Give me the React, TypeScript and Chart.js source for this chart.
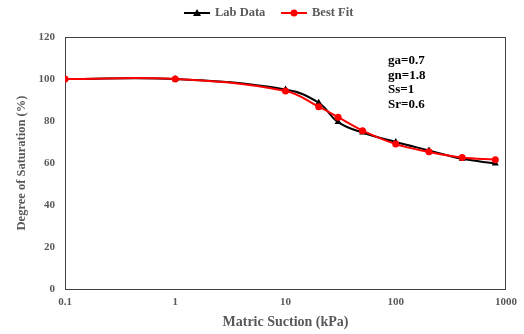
import React, { useEffect, useRef } from "react";
import { Chart, registerables } from "chart.js";

Chart.register(...registerables);

const suction = [0.1, 1, 10, 20, 30, 50, 100, 200, 400, 800];
const labData = [100, 100, 95, 88.7, 79.5, 74.5, 70, 66, 62, 59.8];
const bestFit = [100, 100, 94.3, 86.8, 81.8, 75.4, 69, 65.3, 62.6, 61.6];
const xTicks = [0.1, 1, 10, 100, 1000];
const annotations = ["ga=0.7", "gn=1.8", "Ss=1", "Sr=0.6"];
const seriesNames = ["Lab Data", "Best Fit"];

const FONT = "'Liberation Serif', 'Times New Roman', serif";
const GRAY = "#595959";

export default function App() {
  const ref = useRef<HTMLCanvasElement>(null);
  useEffect(() => {
    document.body.style.margin = "0";
    const ctx = ref.current!.getContext("2d")!;
    const framePlugin = {
      id: "frame",
      beforeDatasetsDraw(chart: any) {
        const { left, right, top, bottom } = chart.chartArea;
        const c = chart.ctx;
        c.save();
        c.strokeStyle = "#404040";
        c.lineWidth = 1;
        c.strokeRect(left + 0.5, top + 0.5, right - left - 1, bottom - top);
        c.restore();
      },
      afterDraw(chart: any) {
        const c = chart.ctx;
        c.save();
        c.fillStyle = "#000";
        c.font = `bold 13px ${FONT}`;
        c.textAlign = "left";
        c.textBaseline = "middle";
        annotations.forEach((t, i) => c.fillText(t, 388, 61 + i * 14.5));
        const cy = 13;
        const items = [
          { x: 184, color: "#000", style: "tri", text: seriesNames[0] },
          { x: 281, color: "#ff0000", style: "circ", text: seriesNames[1] },
        ];
        items.forEach((it) => {
          c.strokeStyle = it.color;
          c.lineWidth = 2;
          c.beginPath();
          c.moveTo(it.x, cy);
          c.lineTo(it.x + 26, cy);
          c.stroke();
          const mx = it.x + 13;
          c.fillStyle = it.color;
          c.beginPath();
          if (it.style === "tri") {
            c.moveTo(mx, cy - 4);
            c.lineTo(mx + 4, cy + 3);
            c.lineTo(mx - 4, cy + 3);
            c.closePath();
          } else {
            c.arc(mx, cy, 3.5, 0, Math.PI * 2);
          }
          c.fill();
          c.fillStyle = GRAY;
          c.font = `bold 12.5px ${FONT}`;
          c.textBaseline = "middle";
          c.fillText(it.text, it.x + 31, cy);
        });
        c.restore();
      },
    };
    const chart = new Chart(ctx, {
      type: "line",
      data: {
        datasets: [
          {
            label: seriesNames[1],
            data: suction.map((x, i) => ({ x, y: bestFit[i] })),
            borderColor: "#ff0000",
            backgroundColor: "#ff0000",
            borderWidth: 2,
            pointStyle: "circle",
            pointRadius: 3.5,
            pointBorderWidth: 0,
            tension: 0.4,
            order: 0,
          },
          {
            label: seriesNames[0],
            data: suction.map((x, i) => ({ x, y: labData[i] })),
            borderColor: "#000",
            backgroundColor: "#000",
            borderWidth: 2,
            pointStyle: "triangle",
            pointRadius: 4,
            pointBorderWidth: 0,
            tension: 0.4,
            order: 1,
          },
        ],
      },
      options: {
        animation: false,
        responsive: false,
        layout: { padding: { top: 37, right: 17, left: 0, bottom: 0 } },
        plugins: { legend: { display: false }, tooltip: { enabled: false } },
        scales: {
          x: {
            type: "logarithmic",
            min: 0.1,
            max: 1000,
            afterBuildTicks: (s: any) => {
              s.ticks = xTicks.map((v) => ({ value: v }));
            },
            afterFit: (s: any) => {
              s.height = 45;
            },
            grid: { display: false, drawTicks: false },
            border: { display: false },
            ticks: {
              color: GRAY,
              font: { family: FONT, size: 11, weight: "bold" },
              padding: 7,
              maxRotation: 0,
              autoSkip: false,
              callback: (v: any) => String(v),
            },
            title: {
              display: true,
              text: "Matric Suction (kPa)",
              color: GRAY,
              font: { family: FONT, size: 14, weight: "bold" },
              padding: { top: 0, bottom: 3 },
            },
          },
          y: {
            min: 0,
            max: 120,
            afterFit: (s: any) => {
              s.width = 65;
            },
            grid: { display: false, drawTicks: false },
            border: { display: false },
            ticks: {
              stepSize: 20,
              color: GRAY,
              font: { family: FONT, size: 11, weight: "bold" },
              padding: 10,
            },
            title: {
              display: true,
              text: "Degree of Saturation (%)",
              color: GRAY,
              font: { family: FONT, size: 12.5, weight: "bold" },
              padding: { top: 14, bottom: 0 },
            },
          },
        },
      },
      plugins: [framePlugin],
    } as any);
    return () => chart.destroy();
  }, []);
  return <canvas ref={ref} width={524} height={334} style={{ display: "block" }} />;
}
